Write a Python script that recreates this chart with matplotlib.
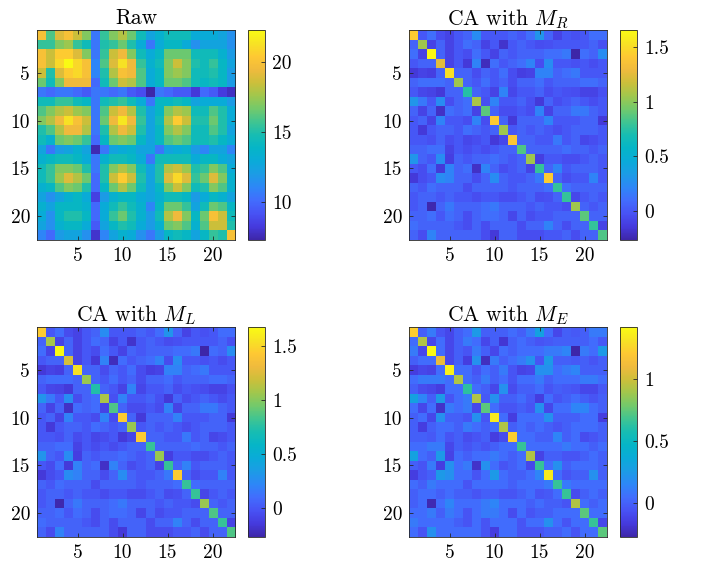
import numpy as np
import matplotlib
matplotlib.use("Agg")
import matplotlib.pyplot as plt
from matplotlib.colors import LinearSegmentedColormap

# ---- data ----
raw = np.array([
    [20.0, 16.0, 19.0, 20.0, 18.5, 17.0, 10.5, 15.5, 17.0, 18.0, 16.5, 14.5, 12.5, 13.5, 14.5, 14.5, 14.5, 13.0, 13.0, 13.0, 12.5, 11.5],
    [15.5, 15.5, 17.0, 17.5, 15.5, 14.5, 10.5, 15.0, 15.5, 16.5, 15.0, 13.0, 10.5, 13.0, 14.0, 14.0, 13.0, 11.5, 12.5, 12.5, 12.5, 11.5],
    [20.0, 18.5, 20.5, 20.5, 19.0, 17.0, 10.5, 15.5, 18.5, 19.5, 17.0, 14.5, 13.0, 14.0, 16.5, 16.5, 16.5, 14.5, 14.5, 14.5, 13.5, 12.0],
    [20.0, 18.5, 21.0, 22.3, 21.0, 20.0, 11.0, 16.0, 19.0, 21.3, 19.5, 15.5, 13.5, 14.5, 17.0, 18.5, 17.0, 15.0, 14.5, 15.5, 14.0, 12.5],
    [18.5, 15.0, 19.0, 20.5, 21.0, 20.0, 11.0, 15.0, 18.0, 20.0, 19.5, 16.0, 13.0, 14.0, 17.0, 17.5, 17.0, 14.5, 14.5, 15.0, 14.0, 12.0],
    [16.5, 14.5, 17.0, 19.5, 19.5, 19.5, 10.0, 14.5, 16.5, 18.5, 18.0, 16.0, 13.0, 14.0, 16.5, 16.5, 16.0, 14.5, 14.0, 14.5, 14.0, 12.0],
    [10.5, 10.0, 10.5, 10.5, 10.0, 9.5, 10.5, 10.5, 10.0, 10.5, 9.5, 9.0, 7.3, 10.5, 10.0, 9.5, 9.5, 8.2, 10.0, 9.5, 8.3, 7.8],
    [14.5, 14.5, 15.5, 15.5, 14.5, 14.0, 10.5, 14.5, 15.0, 15.5, 14.5, 13.0, 10.5, 14.0, 14.0, 14.5, 14.0, 12.5, 13.0, 13.0, 13.0, 12.0],
    [16.0, 17.0, 18.0, 18.5, 17.5, 17.0, 10.5, 16.0, 18.5, 19.5, 18.0, 15.0, 12.5, 14.0, 17.0, 18.0, 17.5, 14.5, 14.5, 16.0, 15.0, 13.0],
    [17.0, 18.0, 19.5, 21.3, 20.0, 18.5, 10.5, 16.5, 19.5, 21.5, 19.5, 15.5, 12.5, 14.5, 18.0, 20.5, 18.5, 15.0, 15.0, 16.5, 15.0, 13.0],
    [15.0, 16.0, 18.0, 19.5, 19.5, 18.0, 10.5, 15.0, 18.0, 19.5, 18.5, 15.0, 12.5, 14.0, 17.0, 18.0, 17.0, 14.5, 14.5, 16.0, 15.0, 12.5],
    [14.5, 13.5, 16.5, 17.0, 16.5, 15.5, 10.0, 14.0, 16.5, 17.0, 16.5, 14.0, 12.5, 14.0, 16.0, 16.5, 16.0, 14.5, 14.5, 15.0, 14.0, 13.0],
    [12.5, 10.5, 12.0, 12.5, 13.5, 12.5, 7.5, 10.5, 12.5, 13.0, 13.5, 12.5, 12.5, 10.5, 12.5, 13.0, 13.5, 12.0, 11.0, 12.5, 12.5, 11.0],
    [13.5, 14.0, 14.5, 14.5, 14.0, 13.0, 10.5, 13.5, 14.5, 14.5, 14.0, 13.0, 10.5, 14.5, 14.5, 14.5, 14.5, 13.0, 14.0, 14.0, 13.0, 12.5],
    [14.5, 15.5, 17.0, 17.0, 16.5, 15.0, 10.5, 15.0, 17.0, 18.0, 17.0, 14.5, 12.5, 15.0, 18.0, 18.5, 17.5, 15.0, 15.5, 17.0, 16.0, 13.0],
    [14.5, 15.5, 17.5, 19.0, 18.0, 16.5, 10.0, 15.0, 18.5, 20.5, 18.5, 15.0, 12.5, 15.0, 19.0, 21.0, 19.0, 15.5, 16.5, 19.0, 17.0, 13.5],
    [13.5, 14.0, 16.0, 17.0, 16.5, 15.0, 10.0, 14.0, 16.5, 18.0, 16.5, 14.5, 12.5, 14.0, 17.0, 18.5, 17.0, 14.5, 15.0, 17.0, 16.0, 13.5],
    [12.5, 11.5, 12.5, 13.5, 14.0, 13.0, 8.5, 12.0, 13.5, 14.0, 14.0, 13.0, 12.5, 13.5, 14.5, 14.5, 14.0, 12.0, 13.0, 14.0, 13.5, 12.5],
    [13.5, 12.5, 14.0, 14.0, 14.0, 13.5, 10.0, 13.0, 14.5, 15.5, 14.5, 13.5, 11.0, 14.0, 16.5, 16.5, 15.5, 12.5, 14.5, 16.5, 16.0, 14.0],
    [13.0, 11.5, 14.0, 15.0, 15.0, 14.0, 10.0, 13.0, 15.5, 16.5, 15.0, 13.5, 12.0, 14.5, 18.0, 19.5, 17.0, 14.0, 16.5, 20.0, 18.5, 14.5],
    [12.5, 11.5, 13.5, 14.0, 14.0, 13.0, 9.5, 12.5, 14.0, 15.0, 14.5, 13.0, 12.0, 13.5, 16.5, 17.0, 16.0, 13.5, 16.0, 18.5, 18.5, 15.0],
    [11.0, 10.0, 12.0, 12.5, 12.5, 11.5, 8.0, 11.0, 12.5, 13.5, 13.0, 11.5, 10.5, 12.0, 14.0, 14.5, 14.0, 12.5, 14.0, 15.5, 15.0, 20.0],
])

# off-diagonal part shared by the three CA maps (diagonal filled below)
ca_off = np.array([
    [0, 0.0, 0.1, -0.05, -0.1, 0.0, 0.05, 0.25, 0.0, 0.0, 0.0, 0.05, 0.0, 0.1, 0.3, 0.05, -0.1, 0.0, -0.03, 0.0, 0.1, 0.1],
    [0.05, 0, -0.1, 0.05, -0.1, 0.0, 0.1, 0.05, -0.1, 0.0, -0.18, 0.0, 0.05, 0.0, -0.05, -0.03, 0.0, 0.0, 0.0, 0.0, 0.05, -0.03],
    [0.1, -0.1, 0, 0.05, -0.1, 0.0, -0.05, 0.1, 0.0, -0.1, 0.05, 0.0, 0.05, 0.05, 0.05, 0.1, 0.1, 0.15, -0.27, 0.1, 0.05, 0.25],
    [0.0, 0.05, 0.05, 0, -0.1, 0.0, -0.15, 0.2, -0.22, 0.1, 0.0, 0.05, 0.1, 0.2, -0.05, 0.25, 0.0, 0.0, -0.03, 0.0, -0.05, 0.0],
    [-0.15, -0.1, -0.12, 0.05, 0, 0.05, 0.05, -0.05, 0.05, 0.0, 0.1, -0.05, -0.12, -0.1, 0.2, 0.2, 0.05, 0.1, 0.15, 0.0, 0.0, 0.0],
    [0.05, 0.1, 0.1, 0.1, 0.05, 0, 0.05, 0.0, 0.1, 0.0, 0.05, -0.05, 0.05, 0.05, 0.1, 0.0, 0.05, 0.05, 0.05, 0.1, 0.1, 0.05],
    [0.0, -0.08, -0.1, -0.15, 0.05, 0.05, 0, 0.05, 0.0, -0.1, 0.2, -0.08, 0.0, 0.0, 0.05, -0.05, 0.0, -0.03, -0.05, -0.1, -0.1, -0.03],
    [0.3, 0.15, 0.0, 0.25, -0.05, 0.05, 0.1, 0, -0.03, 0.2, 0.0, 0.0, 0.05, -0.03, -0.15, 0.05, -0.05, 0.0, 0.05, 0.0, -0.05, 0.0],
    [0.05, -0.1, 0.05, -0.2, 0.1, 0.05, 0.1, -0.1, 0, 0.05, -0.05, -0.05, 0.0, -0.05, 0.2, -0.1, 0.05, 0.05, 0.15, 0.15, 0.05, 0.0],
    [0.0, 0.05, -0.1, 0.2, 0.0, 0.0, -0.05, 0.2, -0.05, 0, 0.05, -0.15, 0.05, 0.05, 0.05, 0.2, 0.0, 0.0, 0.0, 0.05, 0.05, -0.15],
    [0.0, -0.15, 0.0, 0.05, 0.05, 0.0, 0.1, 0.05, 0.0, 0.05, 0, 0.0, 0.05, 0.0, 0.05, 0.0, -0.05, 0.0, 0.05, 0.05, 0.05, 0.0],
    [0.0, 0.0, -0.03, 0.05, -0.05, 0.0, -0.08, -0.05, 0.0, -0.15, -0.08, 0, 0.05, 0.05, 0.0, 0.0, 0.15, 0.0, 0.05, -0.08, -0.05, 0.0],
    [0.05, 0.05, 0.1, 0.1, -0.1, 0.0, -0.05, 0.0, -0.05, 0.0, 0.05, 0.05, 0, 0.05, 0.05, 0.05, 0.05, 0.1, 0.05, 0.05, 0.0, 0.05],
    [0.3, 0.05, 0.0, 0.25, -0.12, 0.05, 0.0, 0.05, 0.05, 0.1, 0.05, 0.0, 0.05, 0, -0.12, 0.0, 0.0, -0.05, -0.05, 0.0, 0.05, 0.0],
    [0.0, -0.05, 0.1, -0.15, 0.2, 0.05, 0.1, -0.2, 0.2, 0.05, -0.05, 0.0, 0.05, -0.1, 0, 0.05, 0.2, 0.0, 0.05, 0.05, 0.05, 0.0],
    [-0.15, -0.05, 0.0, 0.25, 0.2, 0.05, 0.05, -0.05, 0.05, 0.25, 0.05, 0.0, 0.0, 0.05, 0.15, 0, 0.05, -0.05, 0.0, 0.0, 0.2, 0.0],
    [0.05, 0.0, 0.1, 0.05, 0.05, 0.05, -0.05, 0.05, 0.05, 0.05, 0.05, 0.0, 0.05, 0.05, 0.05, 0.1, 0, 0.1, 0.05, 0.05, 0.05, 0.05],
    [0.0, 0.05, 0.05, 0.0, 0.05, 0.0, 0.0, -0.05, 0.0, 0.0, -0.05, -0.05, 0.0, 0.05, -0.05, -0.03, 0.05, 0, -0.08, 0.0, 0.05, 0.0],
    [0.0, 0.05, -0.25, 0.05, 0.15, 0.05, 0.05, 0.05, 0.1, 0.15, 0.05, 0.05, 0.05, 0.0, 0.05, 0.0, 0.0, -0.05, 0, 0.05, 0.0, 0.05],
    [0.05, 0.05, 0.1, 0.0, 0.1, 0.05, -0.05, 0.05, 0.1, 0.1, 0.05, -0.08, 0.05, -0.05, 0.0, 0.0, 0.05, 0.05, 0.05, 0, 0.05, 0.05],
    [0.1, 0.05, 0.05, 0.05, 0.05, 0.0, -0.05, 0.05, -0.05, 0.05, 0.05, 0.05, -0.05, 0.05, 0.05, 0.2, 0.05, -0.05, 0.05, 0.05, 0, -0.1],
    [0.05, -0.05, 0.2, 0.05, 0.05, 0.05, 0.05, 0.05, -0.05, -0.15, 0.05, 0.05, -0.05, -0.05, -0.05, 0.0, 0.0, 0.05, -0.05, 0.05, 0.05, 0],
])

diag_R = [1.43, 1.05, 1.66, 1.25, 1.52, 1.05, 0.74, 1.08, 0.88, 1.43, 1.05, 1.40, 0.85, 1.05, 0.78, 1.43, 0.78, 0.78, 1.05, 0.88, 0.78, 0.85]
diag_L = [1.45, 1.08, 1.68, 1.22, 1.55, 1.05, 0.74, 1.10, 0.86, 1.45, 1.05, 1.45, 0.80, 1.05, 0.80, 1.45, 0.80, 0.80, 1.05, 0.86, 0.80, 0.86]
diag_E = [1.23, 0.93, 1.42, 1.08, 1.38, 0.93, 0.63, 0.93, 0.74, 1.35, 0.93, 1.23, 0.66, 0.93, 0.66, 1.35, 0.66, 0.66, 0.93, 0.74, 0.66, 0.74]

titles = ["Raw", r"CA with $M_R$", r"CA with $M_L$", r"CA with $M_E$"]
axis_ticks = [5, 10, 15, 20]
cbar_ticks = [[10, 15, 20], [0, 0.5, 1, 1.5], [0, 0.5, 1, 1.5], [0, 0.5, 1]]
cbar_labels = [["10", "15", "20"], ["0", "0.5", "1", "1.5"], ["0", "0.5", "1", "1.5"], ["0", "0.5", "1"]]

# approximate MATLAB parula
parula_pts = [
    (0.2422, 0.1504, 0.6603), (0.2719, 0.2288, 0.8668), (0.2810, 0.3228, 0.9579),
    (0.2586, 0.4260, 0.9930), (0.1786, 0.5289, 0.9682), (0.1100, 0.6100, 0.9000),
    (0.0400, 0.6700, 0.8500), (0.0200, 0.7100, 0.7800), (0.0900, 0.7400, 0.7000),
    (0.2500, 0.7700, 0.5700), (0.4500, 0.7900, 0.4200), (0.6300, 0.7800, 0.3000),
    (0.8000, 0.7500, 0.2300), (0.9400, 0.7300, 0.2400), (0.9956, 0.7850, 0.2000),
    (0.9700, 0.8900, 0.1400), (0.9769, 0.9839, 0.0805)]
parula = LinearSegmentedColormap.from_list("parula", parula_pts)

plt.rcParams["font.family"] = "cmr10"
plt.rcParams["mathtext.fontset"] = "cm"
plt.rcParams["axes.unicode_minus"] = False

mats = []
for d in [diag_R, diag_L, diag_E]:
    m = ca_off.copy()
    np.fill_diagonal(m, d)
    mats.append(m)
mats = [raw] + mats

W, H = 709, 564
fig = plt.figure(figsize=(W / 100, H / 100), dpi=100)

boxes = [(37, 30), (409, 30), (37, 327), (409, 327)]
aw, ah = 198, 210
for k, (x0, y0) in enumerate(boxes):
    ax = fig.add_axes([x0 / W, 1 - (y0 + ah) / H, aw / W, ah / H])
    im = ax.imshow(mats[k], cmap=parula, aspect="auto", interpolation="nearest",
                   extent=(0.5, 22.5, 22.5, 0.5))
    ax.set_xticks(axis_ticks)
    ax.set_yticks(axis_ticks)
    ax.set_xticklabels([str(t) for t in axis_ticks])
    ax.set_yticklabels([str(t) for t in axis_ticks])
    ax.tick_params(direction="in", length=3, width=0.6, top=True, right=True,
                   labelsize=14, color="#262626", pad=5)
    for s in ax.spines.values():
        s.set_color("#262626")
        s.set_linewidth(0.6)
    ax.set_title(titles[k], fontsize=15.5, pad=4)

    cax = fig.add_axes([(x0 + 211) / W, 1 - (y0 + ah) / H, 17 / W, ah / H])
    cb = fig.colorbar(im, cax=cax)
    cb.set_ticks(cbar_ticks[k])
    cb.set_ticklabels(cbar_labels[k])
    cb.outline.set_linewidth(0.6)
    cb.outline.set_edgecolor("#262626")
    cax.tick_params(direction="in", length=3, width=0.6, labelsize=14, color="#262626", pad=5)

fig.savefig("out.png", dpi=100)
